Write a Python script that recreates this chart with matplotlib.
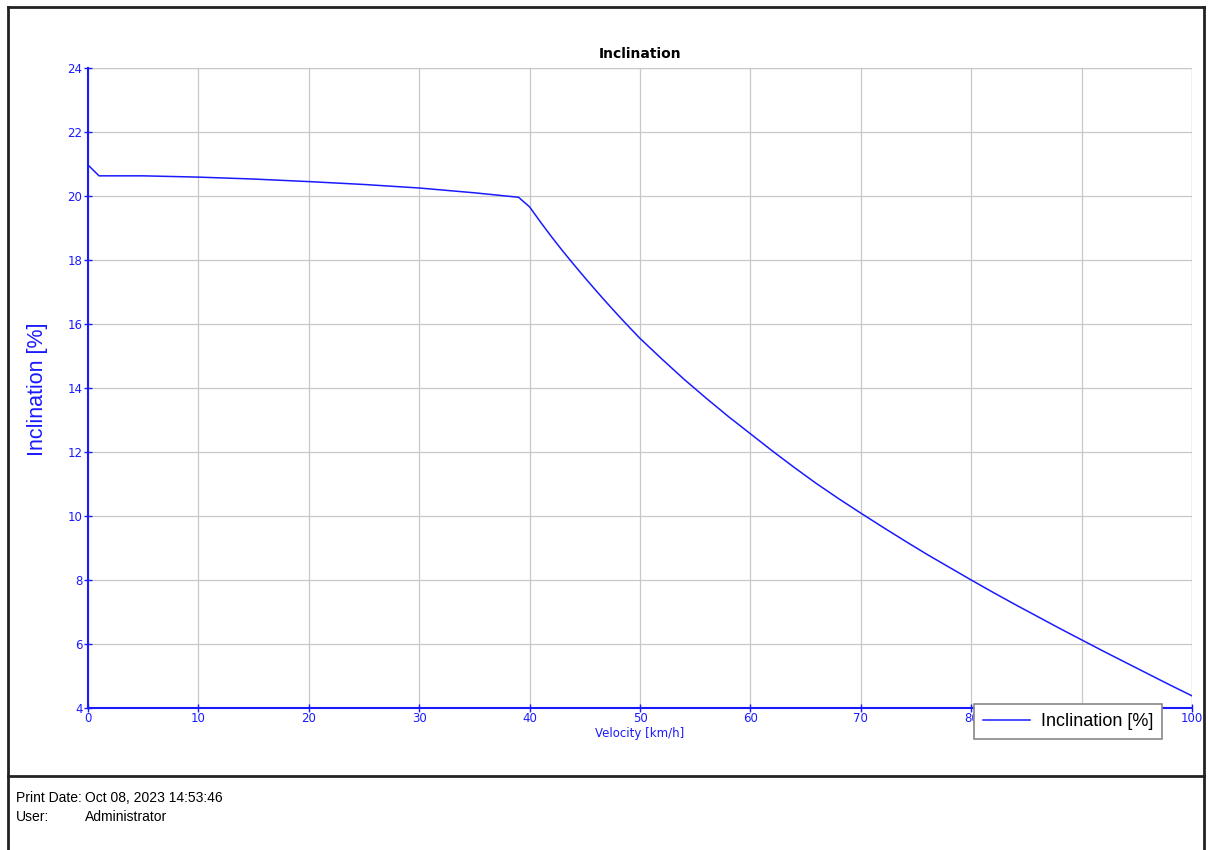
import matplotlib
matplotlib.use("Agg")
import matplotlib.pyplot as plt
from matplotlib.lines import Line2D

# Data
velocity = [0, 1, 5, 10, 15, 20, 25, 30, 35, 39,
            40, 41, 42, 43, 44, 45, 46, 47, 48, 49, 50,
            52, 54, 56, 58, 60, 62, 64, 66, 68, 70,
            72, 74, 76, 78, 80, 82, 84, 86, 88, 90,
            92, 94, 96, 98, 100]
inclination = [20.97, 20.63, 20.63, 20.59, 20.53, 20.45, 20.36, 20.25, 20.10, 19.96,
               19.66, 19.18, 18.72, 18.28, 17.86, 17.45, 17.05, 16.66, 16.28, 15.91, 15.55,
               14.90, 14.27, 13.68, 13.11, 12.57, 12.03, 11.51, 11.01, 10.54, 10.09,
               9.65, 9.22, 8.80, 8.40, 8.00, 7.61, 7.23, 6.86, 6.49, 6.13,
               5.77, 5.42, 5.07, 4.72, 4.38]
xticks = [0, 10, 20, 30, 40, 50, 60, 70, 80, 90, 100]
yticks = [4, 6, 8, 10, 12, 14, 16, 18, 20, 22, 24]

title = "Inclination"
xlabel = "Velocity [km/h]"
ylabel = "Inclination [%]"
series_label = "Inclination [%]"
print_date = "Oct 08, 2023 14:53:46"
user = "Administrator"

W, H = 1208, 850
BLUE = "#1a1aff"

fig = plt.figure(figsize=(W / 100, H / 100), dpi=100)
fig.patch.set_facecolor("white")

def fx(px):
    return px / W

def fy(py):
    return 1 - py / H

ax = fig.add_axes([fx(88), fy(708), fx(1192) - fx(88), fy(68) - fy(708)])
ax.plot(velocity, inclination, color=BLUE, lw=1.1, label=series_label, zorder=3)
ax.set_xlim(0, 100)
ax.set_ylim(4, 24)
ax.set_xticks(xticks)
ax.set_yticks(yticks)
ax.grid(True, color="#c8c8c8", lw=0.9)
ax.set_axisbelow(True)
for s in ["top", "right"]:
    ax.spines[s].set_visible(False)
for s in ["left", "bottom"]:
    ax.spines[s].set_color(BLUE)
    ax.spines[s].set_linewidth(1.5)
ax.tick_params(axis="both", colors=BLUE, direction="inout", length=6, width=1,
               labelsize=8.5, pad=1)
ax.tick_params(axis="x", pad=0)
ax.axvline(100, color="#c8c8c8", lw=0.9, zorder=0)
ax.axhline(24, color="#c8c8c8", lw=0.9, zorder=0)

ax.set_title(title, fontsize=10, fontweight="bold", pad=7)
ax.set_xlabel(xlabel, color=BLUE, fontsize=8.5, labelpad=1)
fig.text(fx(38), fy(389), ylabel, rotation=90, color=BLUE, fontsize=15.5,
         family="Liberation Sans", ha="center", va="center")

leg = ax.legend(loc="center", bbox_to_anchor=(fx(1068), fy(721.5)),
                bbox_transform=fig.transFigure, frameon=True, fancybox=False,
                prop={"family": "Liberation Sans", "size": 13},
                handlelength=2.6, handletextpad=0.6, borderpad=0.5,
                edgecolor="#888888", framealpha=1)
leg.get_frame().set_linewidth(1.2)
leg.set_zorder(10)

# Page borders
border_kw = dict(color="#222222", lw=2, transform=fig.transFigure)
fig.add_artist(Line2D([fx(8), fx(1204)], [fy(7), fy(7)], **border_kw))
fig.add_artist(Line2D([fx(8), fx(8)], [fy(7), fy(850)], **border_kw))
fig.add_artist(Line2D([fx(1204), fx(1204)], [fy(7), fy(850)], **border_kw))
fig.add_artist(Line2D([fx(8), fx(1204)], [fy(776), fy(776)], **border_kw))

footer_kw = dict(fontsize=10, family="Liberation Sans", va="center", color="black")
fig.text(fx(16), fy(798), "Print Date:", **footer_kw)
fig.text(fx(85), fy(798), print_date, **footer_kw)
fig.text(fx(16), fy(817), "User:", **footer_kw)
fig.text(fx(85), fy(817), user, **footer_kw)

fig.savefig("out.png", dpi=100, facecolor="white")
